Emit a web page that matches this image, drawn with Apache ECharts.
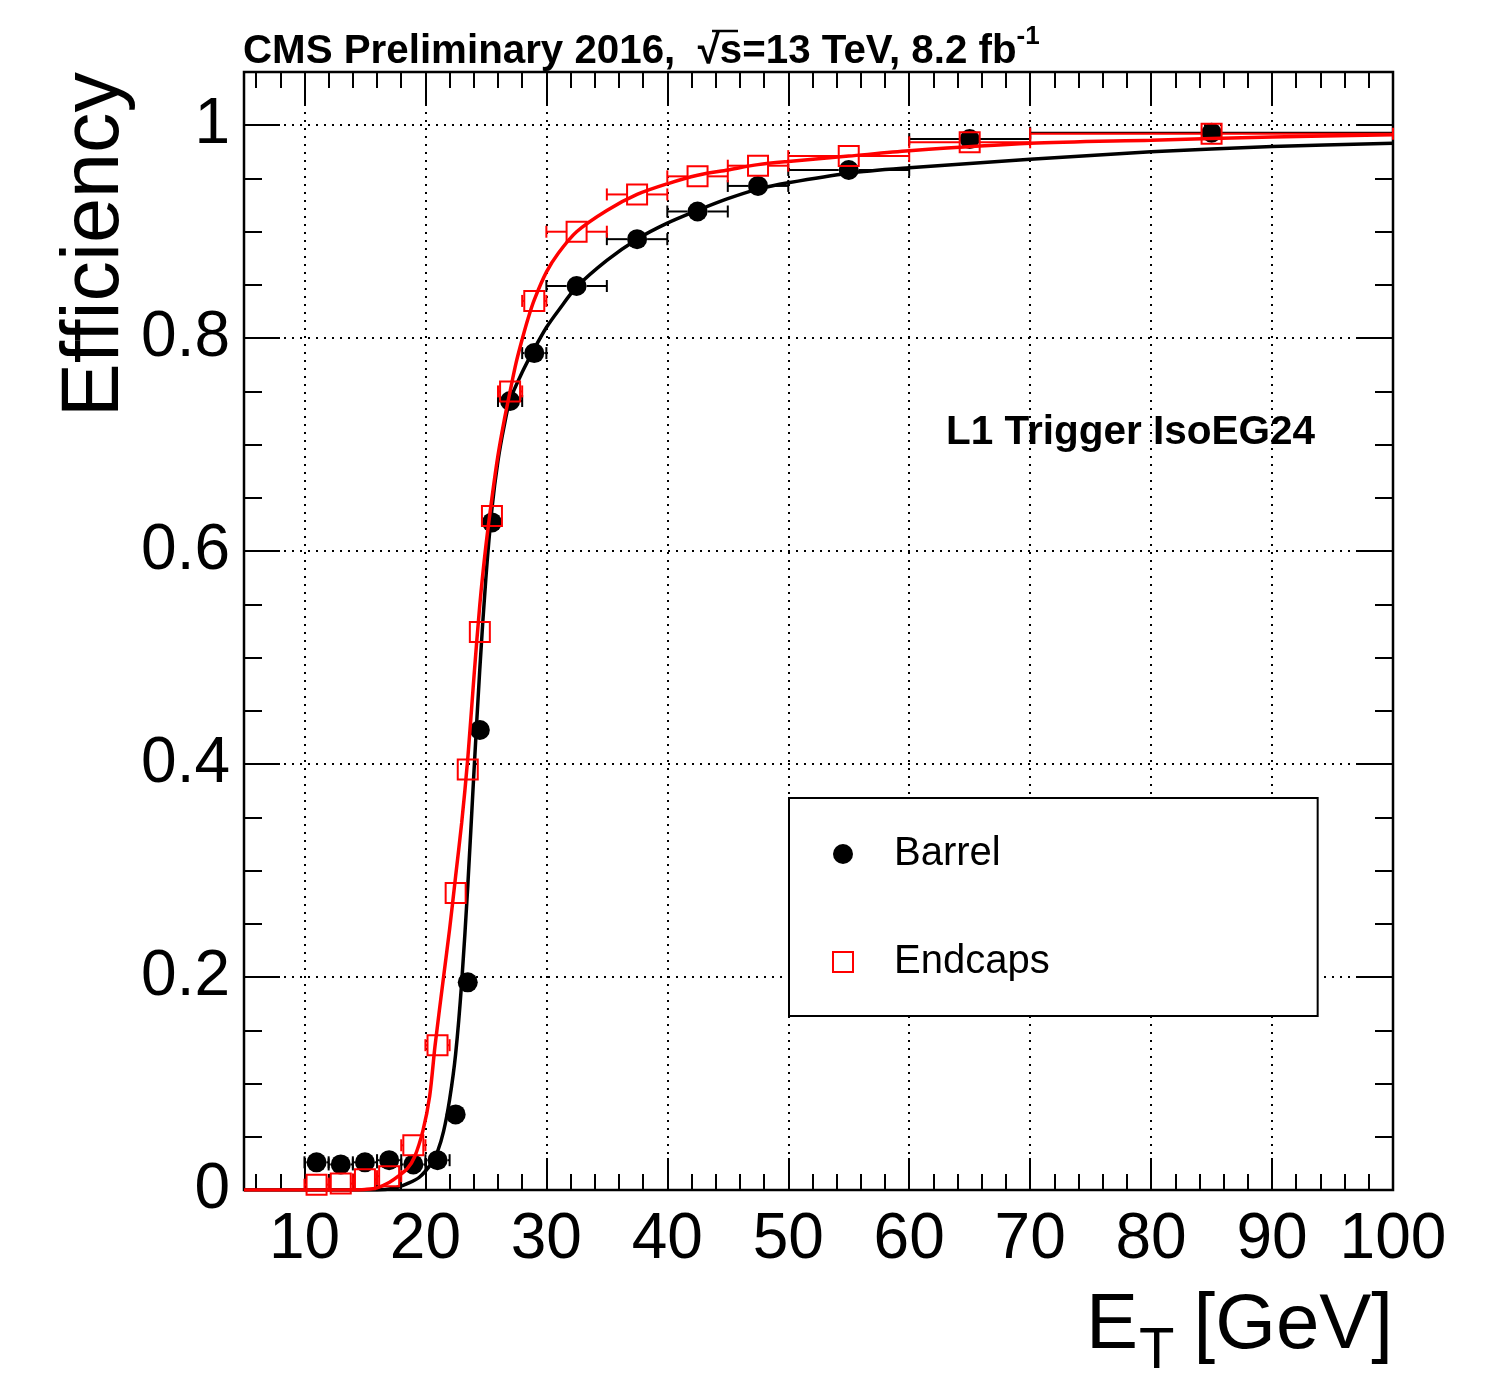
<!DOCTYPE html>
<html><head><meta charset="utf-8">
<script src="https://cdn.jsdelivr.net/npm/echarts@6/dist/echarts.min.js"></script>
<style>html,body{margin:0;padding:0;background:#fff}#c{width:1485px;height:1384px}</style>
</head><body><div id="c"></div>
<script>
// ---- data ----
const binCenters = [11, 13, 15, 17, 19, 21, 22.5, 23.5, 24.5, 25.5, 27, 29, 32.5, 37.5, 42.5, 47.5, 55, 65, 85];
const binLow     = [10, 12, 14, 16, 18, 20, 22, 23, 24, 25, 26, 28, 30, 35, 40, 45, 50, 60, 70];
const binHigh    = [12, 14, 16, 18, 20, 22, 23, 24, 25, 26, 28, 30, 35, 40, 45, 50, 60, 70, 100];
const barrelEff  = [0.026, 0.024, 0.026, 0.028, 0.024, 0.028, 0.071, 0.195, 0.432, 0.627, 0.741, 0.786, 0.849, 0.893, 0.919, 0.943, 0.958, 0.987, 0.993];
const endcapEff  = [0.005, 0.006, 0.010, 0.013, 0.042, 0.136, 0.279, 0.395, 0.524, 0.633, 0.750, 0.835, 0.900, 0.935, 0.952, 0.962, 0.971, 0.984, 0.992];

const barrelFitX = [5, 16, 17.5, 18.5, 19.5, 20.5, 21, 21.5, 22, 22.5, 23, 23.5, 24, 24.5, 25, 25.5, 26, 26.5, 27, 28, 29, 30, 31, 32.5, 35, 37.5, 40, 42.5, 45, 47.5, 50, 55, 60, 70, 80, 90, 100];
const barrelFitY = [0, 0, 0.002, 0.006, 0.012, 0.025, 0.036, 0.055, 0.085, 0.128, 0.195, 0.285, 0.39, 0.49, 0.575, 0.64, 0.685, 0.717, 0.742, 0.768, 0.79, 0.81, 0.826, 0.848, 0.873, 0.893, 0.908, 0.920, 0.931, 0.940, 0.946, 0.955, 0.960, 0.968, 0.975, 0.980, 0.983];
const endcapFitX = [5, 14, 15, 16, 17, 17.7, 18.5, 19.1, 19.8, 20.35, 20.8, 21.5, 22, 22.5, 23, 23.5, 24, 24.5, 25, 25.5, 26, 26.5, 27, 27.5, 28, 28.5, 29, 30, 31, 32.5, 35, 37.5, 40, 42.5, 45, 47.5, 50, 55, 60, 70, 80, 90, 100];
const endcapFitY = [0, 0, 0.0005, 0.002, 0.007, 0.0125, 0.02, 0.031, 0.056, 0.088, 0.136, 0.2, 0.245, 0.295, 0.345, 0.405, 0.48, 0.55, 0.605, 0.65, 0.69, 0.722, 0.75, 0.777, 0.799, 0.819, 0.836, 0.862, 0.88, 0.9, 0.92, 0.935, 0.945, 0.953, 0.958, 0.963, 0.966, 0.971, 0.976, 0.983, 0.986, 0.989, 0.991];

const xTickLabels = [10, 20, 30, 40, 50, 60, 70, 80, 90, 100];
const xMajorTicks = [10, 20, 30, 40, 50, 60, 70, 80, 90];
const xMinorTicks = [6, 8, 12, 14, 16, 18, 22, 24, 26, 28, 32, 34, 36, 38, 42, 44, 46, 48, 52, 54, 56, 58, 62, 64, 66, 68, 72, 74, 76, 78, 82, 84, 86, 88, 92, 94, 96, 98];
const yTickLabels = [0, 0.2, 0.4, 0.6, 0.8, 1];
const yMajorTicks = [0.2, 0.4, 0.6, 0.8, 1];
const yMinorTicks = [0.05, 0.1, 0.15, 0.25, 0.3, 0.35, 0.45, 0.5, 0.55, 0.65, 0.7, 0.75, 0.85, 0.9, 0.95];

const titleText = 'CMS Preliminary 2016,  \u221As=13 TeV, 8.2 fb';
const labelText = 'L1 Trigger IsoEG24';

// ---- chart ----
const FONT = "'Liberation Sans', Arial, Helvetica, sans-serif";
const X_MIN = 5, X_MAX = 100, Y_MIN = 0, Y_MAX = 1.05;

function zip(a, b) { return a.map((v, i) => [v, b[i]]); }
const barrelPts = binCenters.map((x, i) => [x, barrelEff[i], binLow[i], binHigh[i]]);
const endcapPts = binCenters.map((x, i) => [x, endcapEff[i], binLow[i], binHigh[i]]);

function errRender(color, half) {
  return function (params, api) {
    const x = api.value(0), y = api.value(1), lo = api.value(2), hi = api.value(3);
    const c = api.coord([x, y]);
    const a = api.coord([lo, y]);
    const b = api.coord([hi, y]);
    const st = { stroke: color, lineWidth: 2 };
    const ch = [];
    if (a[0] < c[0] - half) {
      ch.push({ type: 'line', shape: { x1: a[0], y1: c[1], x2: c[0] - half, y2: c[1] }, style: st });
      ch.push({ type: 'line', shape: { x1: a[0], y1: c[1] - 6, x2: a[0], y2: c[1] + 6 }, style: st });
    }
    if (b[0] > c[0] + half) {
      ch.push({ type: 'line', shape: { x1: c[0] + half, y1: c[1], x2: b[0], y2: c[1] }, style: st });
      ch.push({ type: 'line', shape: { x1: b[0], y1: c[1] - 6, x2: b[0], y2: c[1] + 6 }, style: st });
    }
    return { type: 'group', children: ch };
  };
}

function xAxisDef(pos, ticks, len, labels, split) {
  return {
    type: 'value', min: X_MIN, max: X_MAX, position: pos,
    axisLine: { show: false, onZero: false },
    axisTick: { show: true, inside: true, length: len, customValues: ticks, lineStyle: { color: '#000', width: 2 } },
    axisLabel: labels ? { show: true, customValues: labels, margin: 18, color: '#000', fontSize: 64, fontFamily: FONT } : { show: false },
    splitLine: split ? { show: true, lineStyle: { color: '#000', width: 2, type: [2, 6] } } : { show: false },
    minorTick: { show: false }, minorSplitLine: { show: false }
  };
}
function yAxisDef(pos, ticks, len, labels, split) {
  return {
    type: 'value', min: Y_MIN, max: Y_MAX, position: pos,
    axisLine: { show: false, onZero: false },
    axisTick: { show: true, inside: true, length: len, customValues: ticks, lineStyle: { color: '#000', width: 2 } },
    axisLabel: labels ? { show: true, customValues: labels, margin: 14, color: '#000', fontSize: 64, fontFamily: FONT } : { show: false },
    splitLine: split ? { show: true, lineStyle: { color: '#000', width: 2, type: [2, 6] } } : { show: false },
    minorTick: { show: false }, minorSplitLine: { show: false }
  };
}

const SQUARE = 'path://M0 0L10 0L10 10L0 10Z';

const chart = echarts.init(document.getElementById('c'), null, { renderer: 'canvas' });
chart.setOption({
  animation: false,
  backgroundColor: '#fff',
  grid: { left: 244, top: 72, width: 1149, height: 1118, show: true, borderColor: '#000', borderWidth: 2.5, backgroundColor: 'transparent' },
  xAxis: [
    xAxisDef('bottom', xMajorTicks, 32, xTickLabels, true),
    xAxisDef('bottom', xMinorTicks, 16, null, false),
    xAxisDef('top', xMajorTicks, 32, null, false),
    xAxisDef('top', xMinorTicks, 16, null, false)
  ],
  yAxis: [
    yAxisDef('left', yMajorTicks, 36, yTickLabels, true),
    yAxisDef('left', yMinorTicks, 18, null, false),
    yAxisDef('right', yMajorTicks, 36, null, false),
    yAxisDef('right', yMinorTicks, 18, null, false)
  ],
  legend: {
    data: ['Barrel', 'Endcaps'],
    orient: 'vertical', left: 789, top: 798,
    padding: [36, 268, 34, 43],
    itemWidth: 92, itemHeight: 20, itemGap: 68,
    backgroundColor: '#fff', borderColor: '#000', borderWidth: 2,
    selectedMode: false,
    textStyle: { color: '#000', fontSize: 40, fontFamily: FONT }
  },
  graphic: [
    { type: 'text', x: 243, y: 80, z: 10,
      style: { text: '{t|' + titleText + '}{s|-1}', align: 'left', verticalAlign: 'bottom',
        rich: { t: { fontSize: 40.3, fontWeight: 'bold', fontFamily: FONT, fill: '#000', lineHeight: 56 },
                s: { fontSize: 26, fontWeight: 'bold', fontFamily: FONT, fill: '#000', verticalAlign: 'top', lineHeight: 26 } } } },
    { type: 'line', z: 10, shape: { x1: 712, y1: 31, x2: 738, y2: 31 }, style: { stroke: '#000', lineWidth: 2.5 } },
    { type: 'text', x: 946, y: 433, z: 10,
      style: { text: labelText, align: 'left', verticalAlign: 'middle', font: 'bold 40.5px ' + FONT, fill: '#000' } },
    { type: 'text', x: 96, y: 72, rotation: Math.PI / 2, z: 10,
      style: { text: 'Efficiency', align: 'right', verticalAlign: 'middle', font: '81px ' + FONT, fill: '#000' } },
    { type: 'text', x: 1393, y: 1326, z: 10,
      style: { text: '[GeV]', align: 'right', verticalAlign: 'middle', font: '78px ' + FONT, fill: '#000' } },
    { type: 'text', x: 1086, y: 1326, z: 10,
      style: { text: 'E', align: 'left', verticalAlign: 'middle', font: '78px ' + FONT, fill: '#000' } },
    { type: 'text', x: 1139, y: 1352, z: 10,
      style: { text: 'T', align: 'left', verticalAlign: 'middle', font: '58px ' + FONT, fill: '#000' } }
  ],
  series: [
    { type: 'custom', name: 'barrelErr', renderItem: errRender('#000', 10), data: barrelPts, encode: { x: 0, y: 1 }, z: 3 },
    { type: 'scatter', name: 'Barrel', data: barrelPts.map(p => [p[0], p[1]]), symbol: 'circle', symbolSize: 20,
      itemStyle: { color: '#000', opacity: 1 }, z: 4 },
    { type: 'line', name: 'barrelFit', data: zip(barrelFitX, barrelFitY), showSymbol: false, smooth: 0.3,
      lineStyle: { color: '#000', width: 3.5 }, z: 5 },
    { type: 'custom', name: 'endcapErr', renderItem: errRender('#ff0000', 10), data: endcapPts, encode: { x: 0, y: 1 }, z: 6 },
    { type: 'scatter', name: 'Endcaps', data: endcapPts.map(p => [p[0], p[1]]), symbol: SQUARE, symbolSize: 20,
      itemStyle: { color: 'rgba(0,0,0,0)', borderColor: '#ff0000', borderWidth: 2, opacity: 1 }, z: 7 },
    { type: 'line', name: 'endcapFit', data: zip(endcapFitX, endcapFitY), showSymbol: false, smooth: 0.3,
      lineStyle: { color: '#ff0000', width: 3.5 }, z: 8 }
  ]
});
</script></body></html>
